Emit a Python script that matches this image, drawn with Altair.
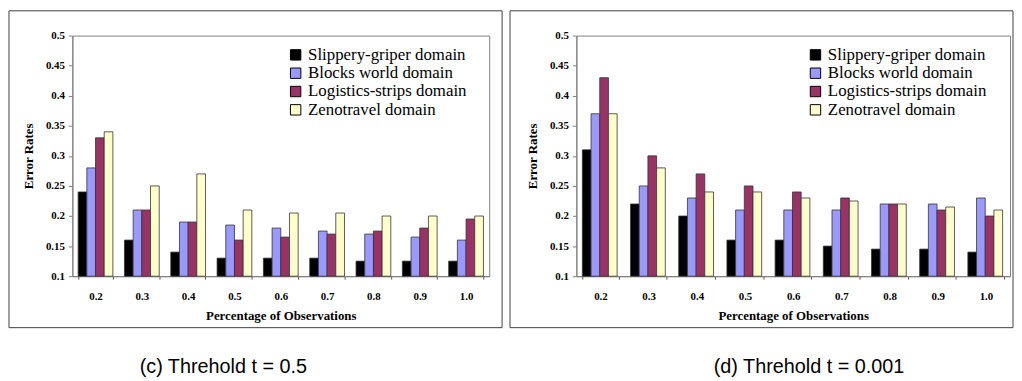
import altair as alt
import pandas as pd

pcts = ["0.2", "0.3", "0.4", "0.5", "0.6", "0.7", "0.8", "0.9", "1.0"]
domains = ["Slippery-griper domain", "Blocks world domain",
           "Logistics-strips domain", "Zenotravel domain"]
colors = ["#000000", "#9999FF", "#993366", "#FFFFCC"]
y_ticks = [0.1, 0.15, 0.2, 0.25, 0.3, 0.35, 0.4, 0.45, 0.5]

# (c) Threshold t = 0.5
c_slippery = [0.24, 0.16, 0.14, 0.13, 0.13, 0.13, 0.125, 0.125, 0.125]
c_blocks = [0.28, 0.21, 0.19, 0.185, 0.18, 0.175, 0.17, 0.165, 0.16]
c_logistics = [0.33, 0.21, 0.19, 0.16, 0.165, 0.17, 0.175, 0.18, 0.195]
c_zeno = [0.34, 0.25, 0.27, 0.21, 0.205, 0.205, 0.2, 0.2, 0.2]

# (d) Threshold t = 0.001
d_slippery = [0.31, 0.22, 0.20, 0.16, 0.16, 0.15, 0.145, 0.145, 0.14]
d_blocks = [0.37, 0.25, 0.23, 0.21, 0.21, 0.21, 0.22, 0.22, 0.23]
d_logistics = [0.43, 0.30, 0.27, 0.25, 0.24, 0.23, 0.22, 0.21, 0.20]
d_zeno = [0.37, 0.28, 0.24, 0.24, 0.23, 0.225, 0.22, 0.215, 0.21]

SERIF = "Liberation Serif"
SANS = "Liberation Sans"
H = 243


def panel(series, width, box_left, box_right, legend_x, caption, dx):
    rows = []
    for name, vals in zip(domains, series):
        for p, v in zip(pcts, vals):
            rows.append({"pct": p, "domain": name, "rate": v})
    df = pd.DataFrame(rows)

    bars = alt.Chart(df).mark_bar(stroke="#333333", strokeWidth=0.8).encode(
        x=alt.X("pct:N", sort=pcts,
                scale=alt.Scale(paddingInner=0.25, paddingOuter=0.125),
                axis=alt.Axis(title="Percentage of Observations", labelAngle=0,
                              labelPadding=12, titlePadding=8,
                              tickBand="extent", tickSize=3, tickColor="#555555",
                              domainColor="#808080")),
        xOffset=alt.XOffset("domain:N", sort=domains,
                            scale=alt.Scale(paddingInner=0, paddingOuter=0)),
        y=alt.Y("rate:Q",
                scale=alt.Scale(domain=[0.1, 0.5], zero=False, nice=False),
                axis=alt.Axis(title="Error Rates", values=y_ticks, format=".2~f",
                              grid=False, labelPadding=4, titlePadding=10,
                              tickSize=4, tickColor="#808080", domainColor="#808080")),
        y2=alt.datum(0.1),
        color=alt.Color("domain:N", sort=domains,
                        scale=alt.Scale(domain=domains, range=colors),
                        legend=alt.Legend(title=None, orient="none",
                                          legendX=legend_x, legendY=11)),
    )

    box = alt.Chart(pd.DataFrame({"k": [0]})).mark_rect(
        fill="white", fillOpacity=0, stroke="#404040", strokeWidth=1
    ).encode(
        x=alt.value(box_left), x2=alt.value(width + box_right),
        y=alt.value(-25), y2=alt.value(H + 52),
    )

    return alt.layer(box, bars).properties(
        width=width, height=H,
        title=alt.TitleParams(caption, orient="bottom", anchor="middle",
                              font=SANS, fontSize=20, fontWeight="normal",
                              color="black", offset=29, dx=dx),
    )


left = panel([c_slippery, c_blocks, c_logistics, c_zeno], 421, -64, 13, 217,
             "(c) Threhold t = 0.5", -58)
right = panel([d_slippery, d_blocks, d_logistics, d_zeno], 438, -67, 3, 233,
              "(d) Threhold t = 0.001", 16)

chart = alt.hconcat(left, right, spacing=6).resolve_scale(
    color="independent").resolve_legend(color="independent").properties(
    padding=0, background="white"
).configure_view(
    stroke="#808080", strokeWidth=1
).configure_axis(
    labelFont=SERIF, labelFontWeight="bold", labelFontSize=11, labelColor="black",
    titleFont=SERIF, titleFontWeight="bold", titleFontSize=13, titleColor="black",
).configure_legend(
    labelFont=SERIF, labelFontSize=17, labelColor="black", labelOffset=4,
    padding=0, symbolType="square", symbolSize=110, symbolStrokeColor="black",
    symbolStrokeWidth=1, rowPadding=0.5, labelLimit=400,
)

chart.save("out.html", embed_options={"renderer": "svg", "actions": False})
